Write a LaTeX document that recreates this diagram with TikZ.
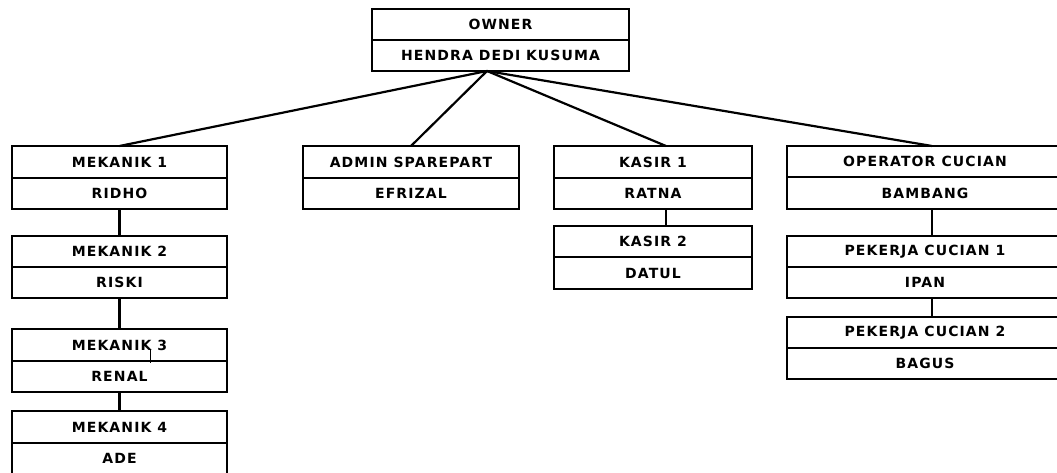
\documentclass[tikz,border=0pt]{standalone}
\usepackage{fontspec}
\newfontfamily\lblfont[LetterSpace=8]{DejaVu Sans Bold}
\begin{document}
\begin{tikzpicture}[x=1pt,y=-1pt]
\tikzset{
  cell/.style={draw=black, line width=2pt, inner sep=0pt, outer sep=0pt, anchor=north west,
    font=\lblfont\fontsize{14}{15}\selectfont, text=black},
  link/.style={draw=black, line width=2.2pt},
}
\useasboundingbox[fill=white] (0,0) rectangle (1057,473);
\clip (0,0) rectangle (1057,473);
% owner
\node[cell, minimum width=257pt, minimum height=31pt] (owt) at (372,9) {OWNER};
\node[cell, minimum width=257pt, minimum height=31pt] (owb) at (372,40) {HENDRA DEDI KUSUMA};
% mekanik column
\node[cell, minimum width=215pt, minimum height=32pt] (m1t) at (12,146) {MEKANIK 1};
\node[cell, minimum width=215pt, minimum height=31pt] (m1b) at (12,178) {RIDHO};
\node[cell, minimum width=215pt, minimum height=31pt] (m2t) at (12,236) {MEKANIK 2};
\node[cell, minimum width=215pt, minimum height=31pt] (m2b) at (12,267) {RISKI};
\node[cell, minimum width=215pt, minimum height=32pt] (m3t) at (12,329) {MEKANIK 3};
\node[cell, minimum width=215pt, minimum height=31pt] (m3b) at (12,361) {RENAL};
\node[cell, minimum width=215pt, minimum height=32pt] (m4t) at (12,411) {MEKANIK 4};
\node[cell, minimum width=215pt, minimum height=31pt] (m4b) at (12,443) {ADE};
% admin
\node[cell, minimum width=216pt, minimum height=32pt] (adt) at (303,146) {ADMIN SPAREPART};
\node[cell, minimum width=216pt, minimum height=31pt] (adb) at (303,178) {EFRIZAL};
% kasir
\node[cell, minimum width=198pt, minimum height=32pt] (k1t) at (554,146) {KASIR 1};
\node[cell, minimum width=198pt, minimum height=31pt] (k1b) at (554,178) {RATNA};
\node[cell, minimum width=198pt, minimum height=31pt] (k2t) at (554,226) {KASIR 2};
\node[cell, minimum width=198pt, minimum height=32pt] (k2b) at (554,257) {DATUL};
% operator
\node[cell, minimum width=276pt, minimum height=31pt] (opt) at (787,146) {OPERATOR CUCIAN};
\node[cell, minimum width=276pt, minimum height=32pt] (opb) at (787,177) {BAMBANG};
\node[cell, minimum width=276pt, minimum height=31pt] (p1t) at (787,236) {PEKERJA CUCIAN 1};
\node[cell, minimum width=276pt, minimum height=31pt] (p1b) at (787,267) {IPAN};
\node[cell, minimum width=276pt, minimum height=31pt] (p2t) at (787,317) {PEKERJA CUCIAN 2};
\node[cell, minimum width=276pt, minimum height=31pt] (p2b) at (787,348) {BAGUS};
% connectors
\coordinate (apex) at (487,71);
\coordinate (kc) at (666,0);
\coordinate (oc) at (932,0);
\draw[link] (apex) -- (m1t.north);
\draw[link] (apex) -- (adt.north);
\draw[link] (apex) -- (k1t.north -| kc);
\draw[link] (apex) -- (opt.north -| oc);
\draw[link] (m1b.south) -- (m2t.north);
\draw[link] (m2b.south) -- (m3t.north);
\draw[link] (m3b.south) -- (m4t.north);
\draw[link] (k1b.south -| kc) -- (k2t.north -| kc);
\draw[link] (opb.south -| oc) -- (p1t.north -| oc);
\draw[link] (p1b.south -| oc) -- (p2t.north -| oc);
% stray mark in MEKANIK 3
\coordinate (tick) at (150,349);
\draw[line width=0.8pt] (tick) -- ++(0,14);
\end{tikzpicture}
\end{document}
